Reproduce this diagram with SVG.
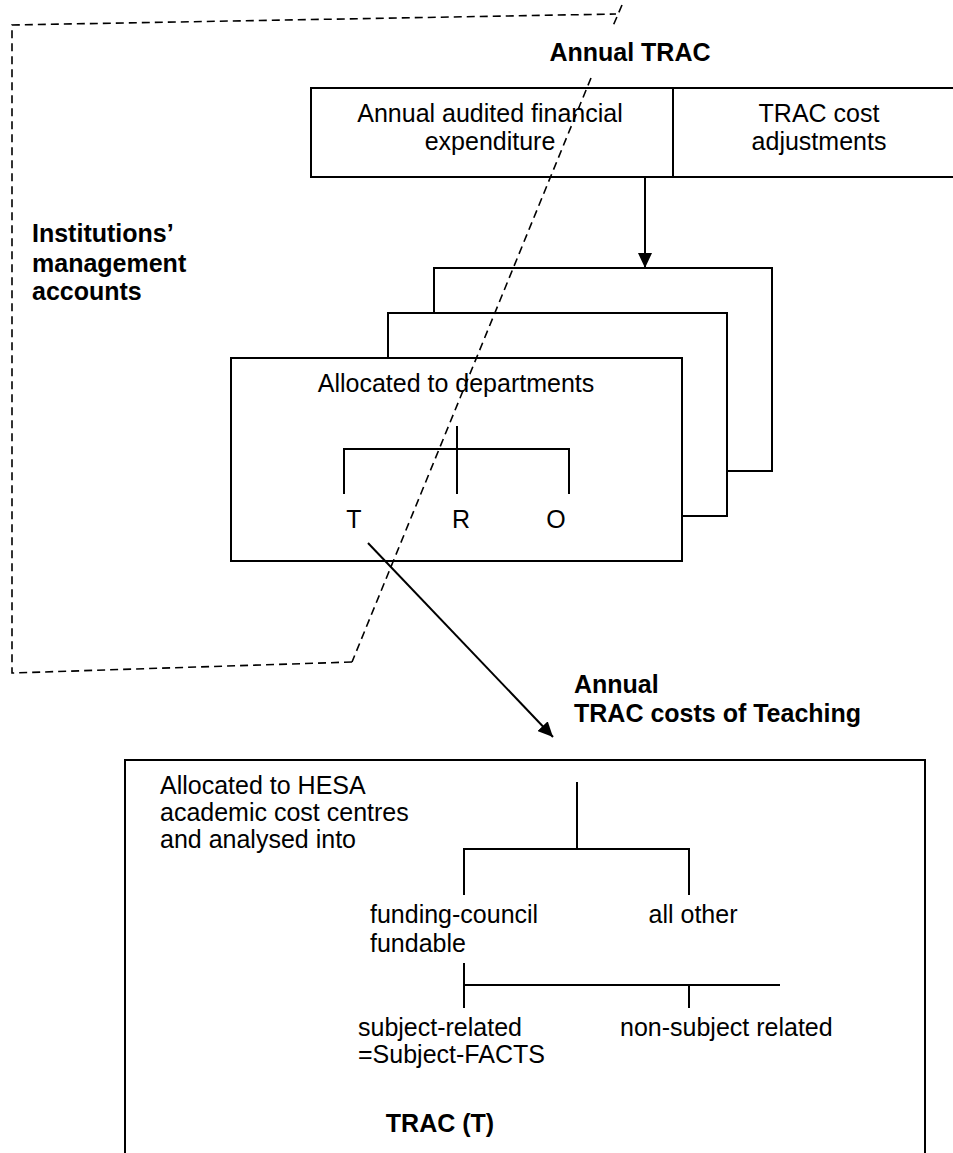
<svg xmlns="http://www.w3.org/2000/svg" width="953" height="1153" viewBox="0 0 953 1153">
<defs>
<style>
.box{fill:#fff;stroke:#000;stroke-width:2}
.ln{fill:none;stroke:#000;stroke-width:2}
.dash{fill:none;stroke:#000;stroke-width:1.6;stroke-dasharray:8 5}
text{font-family:"Liberation Sans",Arial,Helvetica,sans-serif;font-size:25px;fill:#000}
.b{font-weight:bold}
.c{text-anchor:middle}
</style>
<marker id="ah" markerUnits="userSpaceOnUse" markerWidth="16" markerHeight="14" refX="15" refY="7" orient="auto">
<path d="M0,0 L15,7 L0,14 z" fill="#000"/>
</marker>
</defs>
<rect width="953" height="1153" fill="#fff"/>

<g id="top-box">
<rect class="box" x="311" y="88" width="660" height="89"/>
<line class="ln" x1="673" y1="88" x2="673" y2="177"/>
<text class="c" x="490" y="122">Annual audited financial</text>
<text class="c" x="490" y="150">expenditure</text>
<text class="c" x="819" y="122">TRAC cost</text>
<text class="c" x="819" y="150">adjustments</text>
</g>

<g id="dept-back">
<rect class="box" x="434" y="268" width="338" height="203"/>
</g>
<g id="dept-mid">
<rect class="box" x="388" y="313" width="339" height="203"/>
</g>
<g id="dept-front">
<rect class="box" x="231" y="358" width="451" height="203"/>
<text class="c" x="456" y="392">Allocated to departments</text>
<path class="ln" d="M457,426 V494 M344,494 V449 H569 V494"/>
<text class="c" x="354" y="528">T</text>
<text class="c" x="461" y="528">R</text>
<text class="c" x="556" y="528">O</text>
</g>

<g id="hesa-box">
<rect class="box" x="125" y="760" width="800" height="420"/>
<text x="160" y="794">Allocated to HESA</text>
<text x="160" y="821">academic cost centres</text>
<text x="160" y="848">and analysed into</text>
<path class="ln" d="M577,782 V849 M464,895 V849 H689 V895"/>
<text x="370" y="923">funding-council</text>
<text x="370" y="952">fundable</text>
<text class="c" x="693" y="923">all other</text>
<path class="ln" d="M464,963 V1008 M464,985 H780 M689,985 V1008"/>
<text x="358" y="1036">subject-related</text>
<text x="358" y="1063">=Subject-FACTS</text>
<text x="620" y="1036">non-subject related</text>
<text class="b c" x="440" y="1132">TRAC (T)</text>
</g>

<g id="connectors">
<line class="ln" x1="645" y1="177" x2="645" y2="268" marker-end="url(#ah)"/>
<line class="ln" x1="368" y1="543" x2="553" y2="737" marker-end="url(#ah)"/>
</g>

<g id="boundary">
<path class="dash" d="M352,662 L12,673 L12,25 L616,14"/>
<path class="dash" d="M622,5 L613,26"/>
<path class="dash" d="M591,78 L352,662"/>
</g>

<g id="labels">
<text class="b c" x="630" y="61">Annual TRAC</text>
<text class="b" x="32" y="242">Institutions’</text>
<text class="b" x="32" y="272">management</text>
<text class="b" x="32" y="300">accounts</text>
<text class="b" x="574" y="693">Annual</text>
<text class="b" x="574" y="722">TRAC costs of Teaching</text>
</g>
</svg>
